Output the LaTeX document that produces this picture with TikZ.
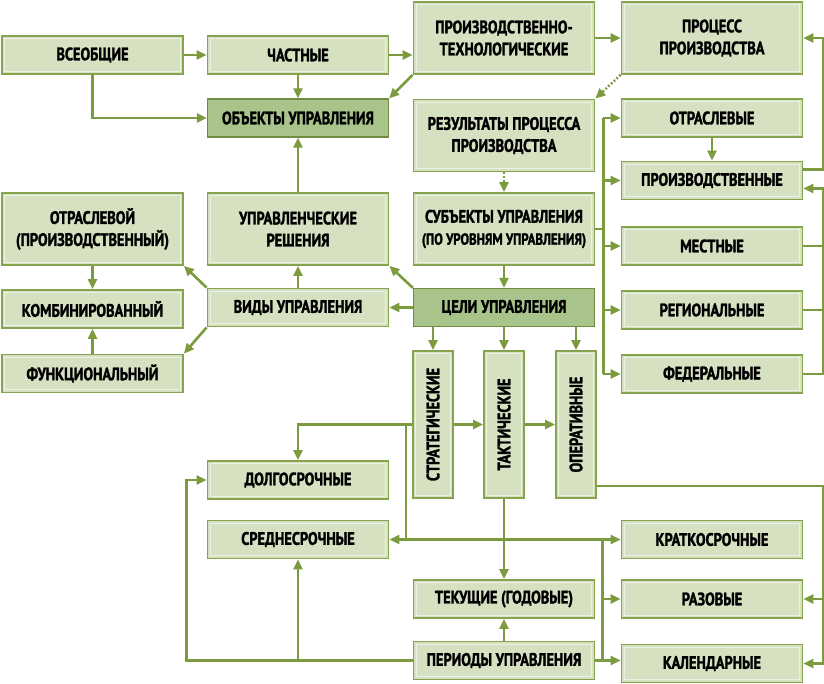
\documentclass[tikz,border=0pt]{standalone}
\usepackage{fontspec}
\setmainfont{PT Sans}[FakeStretch=0.8, BoldFeatures={FakeBold=1.6}]
\usetikzlibrary{arrows.meta}
\definecolor{boxfill}{HTML}{D6E1C2}
\definecolor{boxdark}{HTML}{A9C48B}
\definecolor{boxline}{HTML}{86A34F}
\definecolor{linkgreen}{HTML}{7C9B3E}
\tikzset{
  box/.style={draw=boxline, line width=1.8pt, fill=boxfill, minimum width=181pt, minimum height=38pt,
    inner sep=0pt, align=center, font=\fontsize{18}{22}\selectfont\bfseries,
    path picture={\draw[white!55!boxfill, line width=1pt]
      ([shift={(2.6pt,2.6pt)}]path picture bounding box.south west) rectangle
      ([shift={(-2.6pt,-2.6pt)}]path picture bounding box.north east);}},
  tallbox/.style={box, minimum height=72pt},
  keybox/.style={box, fill=boxdark, draw=boxline!85!black, line width=1.2pt, path picture={}},
  vbox/.style={box, minimum width=40pt, minimum height=147pt},
  arr/.style={draw=linkgreen, line width=2.6pt, -{Triangle[length=10pt,width=9pt]}},
  link/.style={draw=linkgreen, line width=2.6pt},
  dots/.style={dash pattern=on 1.8pt off 2pt}
}
\begin{document}
\begin{tikzpicture}[x=1pt, y=-1pt]
    \useasboundingbox (0,0) rectangle (824,684);
    % objects of management
    \node[box] (vseob) at (92.5,55) {ВСЕОБЩИЕ};
    \node[box] (chast) at (298,55) {ЧАСТНЫЕ};
    \node[keybox] (obj) at (298,118) {ОБЪЕКТЫ УПРАВЛЕНИЯ};
    \node[tallbox] (proiztech) at (504,38) {ПРОИЗВОДСТВЕННО-\\ТЕХНОЛОГИЧЕСКИЕ};
    \node[tallbox] (process) at (712,38) {ПРОЦЕСС\\ПРОИЗВОДСТВА};
    \node[tallbox] (result) at (504,135.5) {РЕЗУЛЬТАТЫ ПРОЦЕССА\\ПРОИЗВОДСТВА};
    % subjects by level
    \node[tallbox] (subj) at (504,229) {СУБЪЕКТЫ УПРАВЛЕНИЯ\\{\fontsize{16}{20}\selectfont(ПО УРОВНЯМ УПРАВЛЕНИЯ)}};
    \node[box] (otrasl) at (712,118) {ОТРАСЛЕВЫЕ};
    \node[box] (proizv) at (712,180.5) {ПРОИЗВОДСТВЕННЫЕ};
    \node[box] (mest) at (712,246) {МЕСТНЫЕ};
    \node[box] (region) at (712,310) {РЕГИОНАЛЬНЫЕ};
    \node[box] (feder) at (712,374) {ФЕДЕРАЛЬНЫЕ};
    % kinds of management
    \node[tallbox] (otrslv) at (92.5,229) {ОТРАСЛЕВОЙ\\(ПРОИЗВОДСТВЕННЫЙ)};
    \node[tallbox] (resh) at (298,229) {УПРАВЛЕНЧЕСКИЕ\\РЕШЕНИЯ};
    \node[box] (komb) at (92.5,309) {КОМБИНИРОВАННЫЙ};
    \node[box] (vidy) at (298,307.5) {ВИДЫ УПРАВЛЕНИЯ};
    \node[keybox] (celi) at (504,307.5) {ЦЕЛИ УПРАВЛЕНИЯ};
    \node[box] (funk) at (92.5,373.5) {ФУНКЦИОНАЛЬНЫЙ};
    % goals and periods
    \node[vbox] (strat) at (433,424.5) {\rotatebox{90}{СТРАТЕГИЧЕСКИЕ}};
    \node[vbox] (takt) at (504,424.5) {\rotatebox{90}{ТАКТИЧЕСКИЕ}};
    \node[vbox] (oper) at (576,424.5) {\rotatebox{90}{ОПЕРАТИВНЫЕ}};
    \node[box] (dolg) at (298,480) {ДОЛГОСРОЧНЫЕ};
    \node[box] (sred) at (298,539.5) {СРЕДНЕСРОЧНЫЕ};
    \node[box] (krat) at (712,539.5) {КРАТКОСРОЧНЫЕ};
    \node[box] (tek) at (504,599) {ТЕКУЩИЕ (ГОДОВЫЕ)};
    \node[box] (raz) at (712,599) {РАЗОВЫЕ};
    \node[box] (period) at (504,660.5) {ПЕРИОДЫ УПРАВЛЕНИЯ};
    \node[box] (kal) at (712,663.5) {КАЛЕНДАРНЫЕ};

    \draw[arr] (vseob) -- (chast);
    \draw[arr] (vseob.south) |- (obj.west);
    \draw[arr] (chast) -- (obj);
    \draw[arr] (chast.east) -- (chast.east -| proiztech.west);
    \draw[arr] (proiztech.south west) -- (obj.north east);
    \draw[arr] (proiztech) -- (process);
    \draw[arr, dots] (process.south west) -- (result.north east);
    \draw[arr, dots] (result) -- (subj);
    \draw[arr] ([yshift=11pt]proizv.east) -- ++(20,0) |- (process.east);
    \draw[arr] (otrasl) -- (proizv);
    % right bus
    \draw[arr] (feder.east) -- ++(20,0) coordinate (rbus) |- ([yshift=-8pt]proizv.east);
    \draw[link] (mest.east) -- (mest.east -| rbus);
    \draw[link] (region.east) -- (region.east -| rbus);
    % left bus
    \draw[link] (subj.east) -- ++(8,0) coordinate (lbus);
    \draw[link] (lbus |- otrasl.west) -- (lbus |- feder.west);
    \foreach \n in {otrasl,proizv,mest,region,feder}
        \draw[arr] (lbus |- \n.west) -- (\n.west);
    \draw[arr] (subj) -- (celi);
    \draw[arr] (celi) -- (vidy);
    \draw[arr] (celi.north west) -- (resh.south east);
    \draw[arr] (vidy) -- (resh);
    \draw[arr] (resh) -- (obj);
    \draw[arr] (vidy.north west) -- (otrslv.south east);
    \draw[arr] (vidy.south west) -- (funk.north east);
    \draw[arr] (otrslv) -- (komb);
    \draw[arr] (funk) -- (komb);
    \foreach \n in {strat,takt,oper}
        \draw[arr] (celi.south -| \n) -- (\n.north);
    \draw[arr] (strat) -- (takt);
    \draw[arr] (takt) -- (oper);
    \draw[arr] (strat.west) -| (dolg.north);
    \draw[arr] ([xshift=-6pt]strat.west) |- (sred.east);
    \draw[arr] ([xshift=-6pt]strat.west) |- (krat.west);
    \draw[arr] (takt) -- (tek);
    \draw[arr] (period) -- (tek);
    % period bus
    \draw[arr] (period.east) -- (period.east -| kal.west);
    \draw[link] ([xshift=7pt]period.east) coordinate (pbus) -- (pbus |- krat.west);
    \draw[arr] (pbus |- raz.west) -- (raz.west);
    \draw[arr] (period.west) -- ++(-226,0) |- (dolg.west);
    \draw[arr] (period.west -| sred.south) -- (sred.south);
    \draw[arr] ([yshift=-61.5pt]oper.east) -- ++(226,0) coordinate (obus) |- (kal.east);
    \draw[arr] (obus |- raz.east) -- (raz.east);
\end{tikzpicture}
\end{document}
